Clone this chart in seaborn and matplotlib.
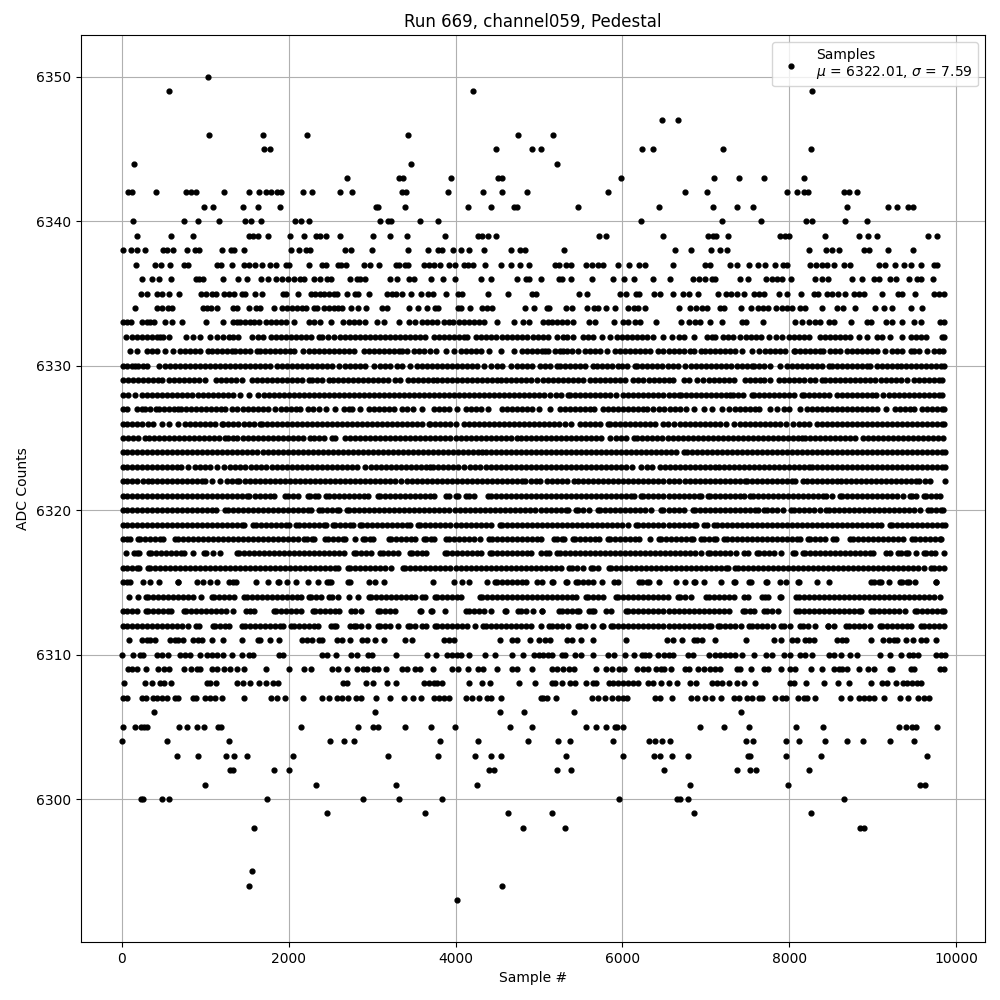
# Pedestal scatter, samples
import matplotlib
matplotlib.use("Agg")
import matplotlib.pyplot as plt
import seaborn as sns
import pandas as pd

adc_6350 = [1030]
adc_6349 = [572, 4208, 8268]
adc_6347 = [6480, 6660]
adc_6346 = [1052, 1688, 2216, 3428, 4748, 5172]
adc_6345 = [1708, 1772, 4484, 4916, 5028, 6240, 6372, 7200, 8256]
adc_6344 = [152, 3464, 5220]
adc_6343 = [2696, 3320, 3368, 3944, 4510, 4560, 5988, 7092, 7392, 7692, 8172]
adc_6342 = [80, 120, 416, 772, 828, 896, 1232, 1520, 1640, 1724, 1784, 1860, 1908, 2168, 2276, 2612, 2764, 3360, 3408, 3912, 4332, 4552, 4856, 5832, 6744, 7008, 7968, 8088, 8180, 8220, 8652, 8720, 8808]
adc_6341 = [992, 1100, 1448, 1628, 1892, 3044, 3072, 3392, 4148, 4424, 4700, 4732, 5472, 6444, 7080, 7368, 7560, 8688, 9180, 9288, 9420, 9480]
adc_6340 = [140, 752, 920, 1172, 1472, 1544, 1664, 2072, 2144, 2240, 3092, 3188, 3228, 3572, 3788, 6228, 7188, 7656, 8204, 8268, 8664, 8928]
adc_6339 = [188, 596, 856, 1520, 1572, 1632, 1748, 2012, 2180, 2328, 2380, 2448, 2612, 3008, 3212, 3416, 3872, 4268, 4320, 4384, 4484, 5724, 5808, 6492, 7020, 7084, 7116, 7260, 7892, 7952, 7996, 8424, 8832, 8940, 9048, 9660, 9768]
adc_6338 = [20, 108, 188, 284, 500, 540, 620, 788, 884, 932, 1208, 1308, 1348, 1460, 2024, 2124, 2208, 2260, 2672, 2744, 2996, 3428, 3668, 3792, 3840, 3972, 4064, 4160, 4340, 4664, 4772, 4832, 5304, 6624, 6816, 7056, 7164, 7248, 8236, 8436, 8512, 8592, 8900, 8956, 9180, 9480]
adc_6337 = [176, 400, 476, 584, 752, 792, 1140, 1196, 1328, 1460, 1520, 1592, 1676, 1772, 1852, 1964, 2004, 2240, 2400, 2448, 2588, 2628, 2684, 2900, 2976, 3080, 3284, 3324, 3400, 3432, 3620, 3680, 3740, 3812, 3920, 3992, 4100, 4152, 4208, 4352, 4544, 4664, 4776, 4880, 5192, 5244, 5324, 5388, 5568, 5640, 5712, 5772, 5952, 6084, 6204, 6276, 6600, 6992, 7052, 7284, 7372, 7512, 7620, 7712, 7824, 7920, 7968, 8244, 8320, 8392, 8452, 8540, 8652, 8724, 9072, 9144, 9264, 9372, 9452, 9572, 9732, 9772]
adc_6336 = [248, 368, 452, 596, 892, 928, 980, 1220, 1400, 1504, 1668, 1748, 1852, 1920, 1988, 2060, 2140, 2188, 2300, 2380, 2460, 2512, 2732, 2820, 2852, 2912, 3220, 3300, 3440, 3500, 3704, 3848, 3992, 4304, 4424, 4736, 4840, 4880, 5024, 5244, 5280, 5388, 5640, 5892, 6024, 6144, 6372, 6564, 6840, 6912, 6992, 7072, 7112, 7404, 7500, 7716, 7792, 7852, 7912, 8016, 8304, 8392, 8460, 8748, 8868, 9012, 9072, 9204, 9276, 9432, 9532, 9572, 9720]
adc_6335 = [228, 300, 420, 480, 572, 688, 948, 1012, 1088, 1132, 1232, 1292, 1352, 1436, 1480, 1592, 1676, 1928, 1964, 2108, 2268, 2320, 2380, 2428, 2480, 2540, 2580, 2696, 2792, 2832, 2960, 3180, 3240, 3292, 3356, 3464, 3584, 3668, 3728, 3884, 4028, 4076, 4388, 4628, 4920, 4960, 5484, 5572, 5972, 6044, 6164, 6200, 6384, 6456, 6608, 6720, 6792, 6900, 7140, 7244, 7304, 7368, 7452, 7572, 7632, 7692, 7872, 7968, 8136, 8292, 8340, 8452, 8512, 8580, 8672, 8772, 8832, 8892, 9108, 9300, 9352, 9504, 9732, 9792, 9848]
adc_6334 = [164, 428, 480, 560, 608, 980, 1028, 1076, 1140, 1340, 1380, 1520, 1612, 1660, 1820, 1920, 1980, 2040, 2100, 2160, 2212, 2300, 2340, 2420, 2480, 2540, 2588, 2636, 2744, 2828, 2924, 3120, 3180, 3440, 3548, 3656, 3752, 3788, 4028, 4060, 4172, 4320, 4380, 4440, 4832, 4944, 5092, 5120, 5324, 5392, 5572, 5660, 5712, 5808, 5916, 6072, 6140, 6192, 6272, 6672, 6812, 6880, 6952, 7012, 7172, 7212, 7416, 7536, 7620, 7680, 7740, 7844, 7912, 7972, 8032, 8124, 8192, 8392, 8572, 8644, 8788, 9024, 9132, 9232, 9456, 9592]
adc_6333 = [14, 60, 108, 240, 300, 340, 392, 520, 600, 728, 1016, 1212, 1340, 1380, 1420, 1480, 1540, 1588, 1640, 1728, 1788, 1848, 1908, 1972, 2060, 2240, 2300, 2380, 2512, 2648, 2720, 2780, 2840, 2920, 3060, 3140, 3328, 3440, 3512, 3600, 3660, 3720, 3780, 3860, 3920, 3972, 4040, 4100, 4160, 4220, 4280, 4340, 4500, 4700, 4812, 4880, 5052, 5112, 5152, 5212, 5272, 5332, 5412, 5604, 5672, 5904, 6004, 6072, 6152, 6212, 6408, 6696, 6792, 6872, 6932, 7052, 7188, 7432, 7484, 7680, 8072, 8152, 8232, 8312, 8372, 8480, 8540, 8736, 8932, 8980, 9152, 9232, 9348, 9492, 9572, 9804, 9852]
adc_6332 = [48, 120, 180, 240, 300, 360, 420, 460, 500, 572, 772, 852, 944, 1064, 1148, 1220, 1292, 1340, 1400, 1560, 1630, 1688, 1788, 1850, 1910, 1970, 2030, 2090, 2150, 2210, 2270, 2360, 2400, 2470, 2540, 2620, 2680, 2740, 2800, 2860, 2920, 2980, 3040, 3100, 3160, 3220, 3280, 3340, 3400, 3460, 3520, 3580, 3640, 3740, 3800, 3860, 3920, 3980, 4040, 4100, 4140, 4240, 4300, 4360, 4420, 4480, 4560, 4620, 4680, 4740, 4800, 4860, 4932, 4992, 5052, 5112, 5212, 5292, 5340, 5412, 5532, 5592, 5652, 5752, 5852, 5932, 5992, 6052, 6112, 6172, 6232, 6292, 6372, 6492, 6592, 6672, 6732, 6852, 7012, 7072, 7112, 7204, 7264, 7324, 7404, 7484, 7544, 7604, 7664, 7752, 7844, 7912, 7992, 8052, 8112, 8172, 8232, 8364, 8424, 8484, 8544, 8604, 8664, 8732, 8832, 8932, 9052, 9112, 9204, 9352, 9452, 9512, 9572, 9632, 9832, 9856]
adc_6331 = [100, 188, 300, 360, 420, 520, 620, 700, 760, 820, 880, 940, 1040, 1080, 1140, 1200, 1260, 1320, 1360, 1420, 1480, 1540, 1620, 1660, 1720, 1780, 1840, 1900, 1960, 2012, 2060, 2168, 2240, 2300, 2360, 2420, 2480, 2540, 2600, 2660, 2720, 2780, 2900, 2960, 3020, 3080, 3140, 3200, 3260, 3320, 3360, 3420, 3500, 3560, 3620, 3700, 3772, 3884, 3980, 4060, 4120, 4180, 4240, 4300, 4400, 4544, 4700, 4800, 4860, 4920, 4980, 5040, 5072, 5112, 5192, 5252, 5292, 5332, 5400, 5472, 5552, 5612, 5672, 5732, 5812, 5912, 5972, 6032, 6092, 6152, 6212, 6272, 6332, 6432, 6492, 6552, 6612, 6672, 6732, 6812, 6852, 6940, 6992, 7052, 7112, 7172, 7232, 7292, 7352, 7432, 7552, 7632, 7712, 7772, 7832, 7892, 7952, 8052, 8072, 8132, 8192, 8252, 8312, 8372, 8404, 8484, 8552, 8612, 8692, 8752, 8812, 8872, 8932, 8992, 9052, 9140, 9232, 9292, 9352, 9452, 9492, 9552, 9652, 9732, 9792, 9836]
adc_6330 = [14, 60, 120, 160, 200, 250, 300, 452, 520, 580, 640, 700, 760, 820, 880, 940, 1000, 1060, 1120, 1180, 1240, 1300, 1360, 1420, 1480, 1540, 1600, 1660, 1720, 1780, 1860, 1920, 1980, 2040, 2100, 2160, 2220, 2280, 2340, 2400, 2460, 2520, 2600, 2680, 2740, 2800, 2860, 2920, 3020, 3100, 3160, 3220, 3300, 3360, 3460, 3540, 3600, 3660, 3720, 3780, 3840, 3900, 3960, 4020, 4080, 4140, 4200, 4260, 4340, 4420, 4500, 4560, 4660, 4740, 4800, 4860, 4920, 5012, 5072, 5132, 5212, 5252, 5312, 5372, 5432, 5492, 5552, 5652, 5692, 5752, 5812, 5872, 5952, 5992, 6052, 6152, 6180, 6240, 6300, 6360, 6420, 6480, 6540, 6600, 6660, 6752, 6820, 6880, 6940, 7000, 7060, 7120, 7180, 7240, 7300, 7372, 7432, 7492, 7552, 7580, 7640, 7700, 7772, 7892, 7972, 8032, 8092, 8152, 8212, 8272, 8332, 8392, 8472, 8512, 8572, 8632, 8692, 8752, 8812, 8872, 8932, 8972, 9052, 9112, 9172, 9232, 9292, 9340, 9400, 9460, 9520, 9580, 9640, 9692, 9752, 9812, 9854]
adc_6329 = [12, 72, 132, 192, 260, 320, 372, 432, 480, 568, 628, 688, 748, 808, 868, 928, 1000, 1128, 1188, 1248, 1308, 1372, 1440, 1560, 1620, 1680, 1740, 1800, 1860, 1920, 1980, 2040, 2100, 2160, 2240, 2280, 2340, 2400, 2480, 2528, 2588, 2648, 2708, 2768, 2828, 2888, 2948, 3008, 3068, 3128, 3188, 3272, 3332, 3428, 3488, 3548, 3608, 3668, 3732, 3780, 3840, 3900, 3960, 4020, 4080, 4140, 4200, 4260, 4320, 4380, 4440, 4500, 4540, 4600, 4660, 4720, 4780, 4840, 4900, 4972, 5044, 5104, 5164, 5224, 5284, 5344, 5404, 5464, 5524, 5612, 5672, 5732, 5792, 5852, 5912, 5972, 6032, 6132, 6192, 6252, 6324, 6380, 6440, 6500, 6560, 6604, 6732, 6792, 6892, 6964, 7032, 7092, 7152, 7212, 7272, 7332, 7472, 7532, 7592, 7652, 7700, 7772, 7872, 7932, 7992, 8052, 8112, 8172, 8244, 8304, 8392, 8432, 8492, 8552, 8612, 8672, 8732, 8792, 8852, 8912, 8972, 9032, 9092, 9152, 9212, 9272, 9332, 9412, 9492, 9552, 9612, 9672, 9732, 9792, 9832]
adc_6328 = [20, 80, 160, 240, 300, 360, 420, 480, 540, 600, 660, 720, 780, 840, 920, 972, 1032, 1092, 1152, 1212, 1272, 1332, 1420, 1520, 1628, 1700, 1760, 1820, 1880, 1940, 2000, 2060, 2120, 2180, 2240, 2300, 2360, 2420, 2480, 2540, 2600, 2660, 2720, 2780, 2840, 2900, 2960, 3020, 3080, 3140, 3200, 3260, 3320, 3380, 3440, 3500, 3560, 3620, 3680, 3740, 3800, 3860, 3920, 3980, 4040, 4100, 4160, 4220, 4280, 4340, 4400, 4460, 4520, 4580, 4640, 4700, 4760, 4820, 4880, 4940, 5000, 5060, 5132, 5204, 5264, 5352, 5372, 5432, 5492, 5552, 5612, 5672, 5732, 5792, 5852, 5924, 6012, 6072, 6132, 6192, 6252, 6312, 6372, 6432, 6492, 6552, 6612, 6672, 6704, 6764, 6824, 6884, 6944, 7004, 7064, 7124, 7184, 7244, 7292, 7324, 7384, 7444, 7552, 7580, 7640, 7700, 7760, 7820, 7880, 7940, 8000, 8060, 8152, 8180, 8240, 8300, 8360, 8420, 8480, 8572, 8632, 8692, 8752, 8812, 8872, 8932, 8992, 9040, 9120, 9192, 9252, 9312, 9372, 9432, 9492, 9552, 9612, 9672, 9732, 9792, 9832]
adc_6327 = [14, 60, 180, 240, 280, 340, 412, 452, 512, 572, 632, 680, 712, 772, 832, 892, 952, 1012, 1072, 1132, 1192, 1240, 1320, 1388, 1448, 1508, 1568, 1628, 1688, 1748, 1840, 1908, 1968, 2028, 2088, 2140, 2228, 2288, 2360, 2448, 2552, 2660, 2720, 2760, 2860, 2960, 3020, 3080, 3140, 3200, 3260, 3360, 3420, 3492, 3600, 3740, 3800, 3860, 3920, 4020, 4120, 4180, 4240, 4300, 4388, 4560, 4620, 4680, 4740, 4800, 4860, 4920, 5004, 5132, 5252, 5312, 5372, 5432, 5492, 5552, 5612, 5664, 5772, 5832, 5892, 5952, 6012, 6072, 6132, 6192, 6252, 6292, 6372, 6444, 6504, 6564, 6624, 6684, 6764, 6852, 6972, 7072, 7188, 7272, 7352, 7404, 7464, 7524, 7584, 7640, 7772, 7852, 7932, 7992, 8124, 8212, 8272, 8332, 8392, 8452, 8512, 8572, 8632, 8692, 8752, 8812, 8872, 8932, 8992, 9052, 9152, 9260, 9320, 9380, 9440, 9492, 9592, 9652, 9712, 9772, 9832, 9856]
adc_6326 = [14, 60, 120, 180, 240, 320, 380, 480, 568, 680, 760, 820, 880, 940, 1000, 1060, 1120, 1200, 1220, 1280, 1340, 1400, 1460, 1520, 1580, 1660, 1680, 1740, 1800, 1860, 1920, 1980, 2040, 2100, 2160, 2220, 2280, 2340, 2400, 2460, 2520, 2580, 2640, 2700, 2760, 2820, 2880, 2940, 3000, 3060, 3120, 3180, 3240, 3300, 3360, 3420, 3480, 3540, 3600, 3680, 3700, 3760, 3820, 3880, 3940, 4000, 4100, 4160, 4220, 4280, 4340, 4400, 4460, 4520, 4580, 4640, 4700, 4760, 4820, 4880, 4940, 5000, 5060, 5120, 5180, 5240, 5312, 5380, 5492, 5552, 5612, 5672, 5732, 5832, 5852, 5912, 5972, 6032, 6092, 6152, 6212, 6272, 6332, 6392, 6492, 6540, 6612, 6684, 6744, 6804, 6864, 6924, 6984, 7044, 7104, 7164, 7244, 7332, 7404, 7464, 7524, 7584, 7644, 7704, 7764, 7824, 7884, 7964, 8040, 8112, 8172, 8232, 8332, 8392, 8452, 8512, 8572, 8632, 8692, 8752, 8812, 8872, 8932, 8992, 9052, 9112, 9172, 9232, 9292, 9352, 9412, 9472, 9532, 9592, 9652, 9712, 9772, 9832, 9856]
adc_6325 = [12, 72, 132, 192, 280, 328, 388, 448, 508, 568, 628, 688, 748, 808, 868, 928, 988, 1048, 1108, 1168, 1240, 1280, 1340, 1388, 1448, 1508, 1568, 1628, 1688, 1748, 1808, 1868, 1928, 1988, 2048, 2108, 2168, 2260, 2300, 2360, 2420, 2520, 2552, 2680, 2740, 2800, 2860, 2920, 2980, 3040, 3100, 3160, 3220, 3280, 3340, 3400, 3460, 3520, 3580, 3640, 3700, 3760, 3820, 3880, 3940, 4000, 4060, 4120, 4180, 4240, 4300, 4360, 4420, 4480, 4540, 4600, 4660, 4732, 4780, 4840, 4900, 4960, 5020, 5080, 5140, 5200, 5260, 5320, 5380, 5440, 5500, 5560, 5620, 5680, 5740, 5852, 5924, 5984, 6044, 6140, 6180, 6240, 6300, 6360, 6420, 6480, 6540, 6600, 6660, 6720, 6780, 6840, 6900, 6960, 7020, 7080, 7140, 7200, 7260, 7320, 7380, 7440, 7500, 7560, 7620, 7680, 7740, 7800, 7860, 7920, 7980, 8040, 8100, 8152, 8192, 8252, 8312, 8372, 8432, 8492, 8552, 8604, 8664, 8724, 8784, 8884, 8940, 9000, 9060, 9120, 9180, 9240, 9300, 9360, 9420, 9480, 9540, 9600, 9660, 9720, 9780, 9842]
adc_6324 = [14, 60, 120, 180, 240, 300, 360, 420, 480, 540, 600, 660, 720, 780, 840, 900, 960, 1020, 1080, 1140, 1200, 1260, 1320, 1380, 1440, 1500, 1560, 1620, 1692, 1752, 1812, 1872, 1932, 1992, 2052, 2112, 2172, 2232, 2292, 2352, 2412, 2472, 2532, 2592, 2652, 2712, 2772, 2832, 2892, 2952, 3012, 3072, 3132, 3192, 3252, 3312, 3372, 3432, 3492, 3552, 3612, 3672, 3732, 3792, 3852, 3912, 3972, 4032, 4092, 4152, 4212, 4272, 4320, 4360, 4420, 4480, 4540, 4600, 4660, 4720, 4780, 4840, 4900, 4960, 5020, 5080, 5140, 5200, 5260, 5320, 5380, 5440, 5500, 5560, 5620, 5680, 5740, 5800, 5860, 5920, 5980, 6040, 6100, 6160, 6220, 6280, 6340, 6400, 6460, 6520, 6580, 6640, 6732, 6772, 6832, 6892, 6952, 7012, 7072, 7132, 7192, 7252, 7312, 7372, 7432, 7492, 7552, 7612, 7672, 7732, 7792, 7852, 7912, 7972, 8032, 8092, 8152, 8212, 8272, 8332, 8392, 8452, 8512, 8572, 8632, 8692, 8752, 8812, 8872, 8932, 8992, 9052, 9112, 9172, 9232, 9292, 9352, 9412, 9472, 9532, 9592, 9652, 9712, 9772, 9832, 9860]
adc_6323 = [14, 60, 120, 180, 240, 300, 360, 420, 480, 540, 600, 660, 710, 800, 880, 940, 1000, 1060, 1140, 1228, 1300, 1360, 1420, 1480, 1550, 1612, 1672, 1732, 1800, 1860, 1920, 1980, 2040, 2100, 2160, 2220, 2280, 2340, 2400, 2460, 2520, 2580, 2640, 2700, 2760, 2820, 2910, 2988, 3048, 3108, 3168, 3228, 3288, 3348, 3408, 3468, 3528, 3588, 3648, 3700, 3728, 3788, 3848, 3908, 3968, 4028, 4100, 4172, 4232, 4292, 4360, 4420, 4480, 4540, 4600, 4660, 4720, 4780, 4840, 4900, 4960, 5020, 5080, 5140, 5200, 5260, 5320, 5380, 5440, 5500, 5560, 5620, 5680, 5740, 5800, 5860, 5920, 5980, 6040, 6120, 6220, 6292, 6360, 6452, 6512, 6572, 6632, 6692, 6752, 6812, 6872, 6932, 6992, 7052, 7112, 7152, 7212, 7272, 7332, 7392, 7452, 7512, 7572, 7632, 7692, 7752, 7812, 7872, 7932, 7992, 8052, 8112, 8172, 8232, 8272, 8332, 8392, 8452, 8512, 8572, 8632, 8692, 8752, 8812, 8872, 8932, 8992, 9052, 9112, 9172, 9232, 9292, 9352, 9412, 9472, 9532, 9592, 9652, 9712, 9772, 9832, 9862]
adc_6322 = [14, 60, 120, 180, 250, 320, 368, 428, 488, 548, 608, 668, 728, 788, 848, 908, 968, 1000, 1080, 1180, 1260, 1320, 1380, 1410, 1480, 1540, 1600, 1660, 1720, 1780, 1840, 1900, 1960, 2020, 2080, 2140, 2200, 2260, 2320, 2380, 2440, 2500, 2560, 2620, 2680, 2740, 2800, 2860, 2920, 2980, 3040, 3100, 3160, 3220, 3280, 3350, 3420, 3480, 3540, 3600, 3660, 3720, 3780, 3840, 3900, 3960, 4020, 4080, 4140, 4200, 4260, 4320, 4380, 4440, 4500, 4560, 4620, 4680, 4740, 4800, 4830, 4900, 4960, 5014, 5100, 5160, 5220, 5280, 5334, 5420, 5462, 5532, 5592, 5652, 5712, 5772, 5832, 5892, 5952, 6012, 6072, 6132, 6192, 6252, 6312, 6372, 6422, 6492, 6562, 6620, 6682, 6752, 6812, 6872, 6932, 6992, 7052, 7112, 7172, 7232, 7292, 7352, 7412, 7472, 7492, 7552, 7612, 7672, 7732, 7792, 7852, 7912, 7972, 8032, 8062, 8164, 8214, 8272, 8332, 8392, 8452, 8512, 8572, 8614, 8680, 8740, 8800, 8860, 8920, 8980, 9040, 9100, 9160, 9220, 9280, 9340, 9400, 9460, 9520, 9550, 9620, 9682, 9860]
adc_6321 = [14, 60, 120, 180, 240, 300, 360, 420, 480, 540, 600, 660, 720, 780, 840, 900, 960, 1020, 1080, 1140, 1200, 1260, 1320, 1380, 1440, 1500, 1530, 1592, 1652, 1712, 1772, 1822, 1962, 1992, 2052, 2110, 2230, 2260, 2320, 2350, 2450, 2480, 2540, 2600, 2660, 2720, 2780, 2840, 2900, 2950, 3070, 3100, 3160, 3220, 3280, 3340, 3400, 3460, 3520, 3580, 3640, 3700, 3742, 3890, 3920, 4000, 4030, 4130, 4160, 4222, 4390, 4420, 4480, 4540, 4600, 4660, 4720, 4780, 4840, 4900, 4960, 5020, 5080, 5140, 5200, 5260, 5320, 5380, 5440, 5500, 5560, 5620, 5680, 5740, 5800, 5860, 5920, 5980, 6040, 6100, 6134, 6222, 6252, 6312, 6372, 6432, 6492, 6552, 6612, 6672, 6732, 6792, 6852, 6912, 6942, 7022, 7052, 7112, 7172, 7232, 7292, 7352, 7412, 7454, 7530, 7560, 7620, 7680, 7740, 7800, 7860, 7920, 7980, 8040, 8100, 8160, 8220, 8280, 8340, 8400, 8442, 8512, 8602, 8632, 8692, 8752, 8812, 8872, 8932, 8992, 9052, 9112, 9172, 9232, 9292, 9362, 9442, 9472, 9522, 9610, 9640, 9700, 9760, 9802]
adc_6320 = [14, 60, 120, 180, 240, 300, 360, 420, 480, 540, 600, 660, 720, 780, 840, 900, 960, 1020, 1080, 1130, 1242, 1272, 1332, 1392, 1452, 1512, 1572, 1632, 1692, 1752, 1812, 1872, 1932, 1992, 2052, 2112, 2172, 2232, 2270, 2370, 2400, 2460, 2520, 2580, 2610, 2698, 2728, 2788, 2848, 2908, 2968, 3028, 3088, 3148, 3208, 3268, 3328, 3388, 3448, 3508, 3568, 3628, 3688, 3748, 3808, 3868, 3928, 3988, 4048, 4108, 4168, 4228, 4288, 4348, 4408, 4468, 4528, 4588, 4648, 4708, 4768, 4828, 4888, 4948, 5020, 5080, 5140, 5200, 5260, 5320, 5342, 5442, 5472, 5532, 5602, 5702, 5732, 5792, 5852, 5912, 5972, 6032, 6092, 6152, 6212, 6272, 6342, 6462, 6492, 6552, 6612, 6672, 6742, 6842, 6872, 6932, 6992, 7052, 7112, 7172, 7232, 7292, 7352, 7412, 7472, 7532, 7592, 7622, 7702, 7732, 7792, 7852, 7922, 8022, 8052, 8112, 8172, 8232, 8292, 8362, 8442, 8472, 8532, 8592, 8652, 8712, 8772, 8832, 8892, 8952, 9012, 9072, 9132, 9192, 9252, 9312, 9372, 9432, 9492, 9562, 9662, 9692, 9752, 9812, 9842]
adc_6319 = [14, 60, 120, 180, 240, 300, 360, 420, 480, 540, 600, 660, 720, 780, 840, 900, 960, 1020, 1080, 1140, 1200, 1260, 1320, 1380, 1440, 1470, 1578, 1608, 1668, 1728, 1788, 1848, 1908, 1968, 2010, 2090, 2120, 2180, 2240, 2300, 2360, 2420, 2450, 2530, 2560, 2620, 2680, 2740, 2770, 2850, 2880, 2940, 3000, 3060, 3120, 3180, 3240, 3300, 3360, 3420, 3450, 3550, 3580, 3640, 3700, 3760, 3820, 3880, 3940, 4000, 4060, 4120, 4180, 4240, 4300, 4360, 4430, 4530, 4560, 4620, 4680, 4740, 4800, 4860, 4920, 4980, 5040, 5100, 5160, 5220, 5280, 5340, 5400, 5460, 5520, 5580, 5640, 5700, 5760, 5820, 5880, 5940, 6000, 6062, 6162, 6192, 6252, 6312, 6372, 6432, 6492, 6552, 6612, 6672, 6732, 6792, 6852, 6882, 6982, 7012, 7102, 7132, 7192, 7252, 7312, 7372, 7432, 7492, 7552, 7612, 7672, 7732, 7792, 7852, 7912, 7972, 8032, 8092, 8152, 8212, 8272, 8332, 8392, 8452, 8512, 8572, 8632, 8692, 8752, 8812, 8872, 8932, 8992, 9052, 9102, 9202, 9232, 9292, 9352, 9412, 9472, 9532, 9592, 9652, 9712, 9772, 9832, 9862]
adc_6318 = [14, 60, 102, 190, 220, 280, 340, 400, 460, 490, 642, 672, 732, 792, 852, 912, 972, 1032, 1092, 1152, 1212, 1272, 1332, 1392, 1452, 1512, 1572, 1632, 1692, 1752, 1812, 1872, 1932, 1992, 2052, 2110, 2190, 2220, 2280, 2310, 2442, 2472, 2532, 2592, 2652, 2682, 2790, 2890, 2920, 2980, 3010, 3202, 3232, 3292, 3352, 3412, 3472, 3510, 3618, 3648, 3708, 3738, 3890, 3920, 3980, 4040, 4100, 4160, 4220, 4290, 4402, 4432, 4492, 4552, 4612, 4672, 4732, 4792, 4852, 4912, 4972, 5022, 5182, 5212, 5272, 5302, 5402, 5432, 5492, 5552, 5612, 5672, 5722, 5822, 5852, 5912, 5972, 6032, 6092, 6152, 6202, 6332, 6434, 6464, 6524, 6584, 6644, 6704, 6764, 6824, 6850, 6942, 6972, 7032, 7092, 7122, 7222, 7252, 7312, 7372, 7432, 7492, 7552, 7612, 7672, 7732, 7792, 7852, 7912, 7972, 8032, 8092, 8122, 8222, 8252, 8312, 8372, 8422, 8522, 8562, 8730, 8760, 8820, 8880, 8940, 9000, 9060, 9120, 9180, 9240, 9300, 9362, 9474, 9504, 9564, 9624, 9684, 9744, 9804, 9822]
adc_6317 = [50, 150, 180, 210, 322, 352, 412, 472, 532, 592, 652, 712, 750, 850, 990, 1010, 1100, 1180, 1378, 1408, 1468, 1528, 1588, 1648, 1708, 1768, 1828, 1888, 1948, 2008, 2068, 2128, 2188, 2248, 2308, 2368, 2428, 2488, 2548, 2608, 2670, 2778, 2808, 2868, 2928, 2990, 3098, 3128, 3188, 3248, 3310, 3450, 3480, 3540, 3600, 3650, 3870, 3900, 3960, 4020, 4080, 4140, 4200, 4260, 4310, 4410, 4440, 4500, 4560, 4620, 4680, 4740, 4800, 4860, 4910, 5020, 5080, 5122, 5222, 5252, 5312, 5372, 5432, 5492, 5552, 5612, 5672, 5732, 5792, 5852, 5912, 5972, 6032, 6092, 6152, 6212, 6272, 6332, 6392, 6452, 6512, 6572, 6632, 6692, 6752, 6812, 6872, 6942, 7022, 7052, 7112, 7172, 7232, 7292, 7362, 7462, 7502, 7610, 7640, 7700, 7760, 7820, 7902, 8042, 8062, 8162, 8192, 8252, 8312, 8372, 8432, 8492, 8552, 8612, 8672, 8732, 8792, 8852, 8912, 8972, 9002, 9154, 9202, 9302, 9332, 9392, 9422, 9522, 9610, 9640, 9700, 9742, 9852]
adc_6316 = [14, 60, 120, 180, 210, 310, 340, 400, 460, 520, 580, 640, 700, 760, 820, 880, 940, 1000, 1060, 1120, 1180, 1240, 1300, 1360, 1420, 1480, 1540, 1600, 1660, 1720, 1780, 1840, 1900, 1960, 2020, 2080, 2140, 2200, 2260, 2320, 2380, 2440, 2500, 2560, 2590, 2710, 2740, 2800, 2860, 2920, 2980, 3040, 3100, 3160, 3230, 3370, 3400, 3460, 3520, 3580, 3640, 3700, 3760, 3820, 3880, 3940, 4000, 4060, 4120, 4180, 4240, 4300, 4360, 4420, 4480, 4540, 4600, 4660, 4720, 4780, 4840, 4900, 4960, 5020, 5080, 5140, 5200, 5262, 5362, 5392, 5452, 5522, 5622, 5652, 5710, 5834, 5864, 5924, 5984, 6044, 6104, 6164, 6224, 6284, 6344, 6404, 6464, 6524, 6584, 6644, 6704, 6764, 6824, 6884, 6944, 7004, 7064, 7124, 7184, 7244, 7262, 7354, 7384, 7444, 7504, 7564, 7624, 7684, 7744, 7804, 7864, 7924, 7984, 8044, 8104, 8164, 8224, 8284, 8344, 8404, 8464, 8524, 8584, 8644, 8704, 8764, 8824, 8884, 8944, 9004, 9064, 9124, 9184, 9244, 9304, 9364, 9424, 9484, 9544, 9614, 9702, 9732, 9792, 9854]
adc_6315 = [14, 60, 102, 252, 340, 452, 670, 680, 900, 980, 1060, 1140, 1290, 1330, 1370, 1604, 1748, 1870, 1880, 1980, 2084, 2228, 2348, 2458, 2480, 2510, 2710, 2730, 2960, 3040, 3140, 3732, 3980, 4080, 4160, 4372, 4470, 4500, 4560, 4620, 4680, 4740, 4800, 4850, 4972, 5032, 5162, 5172, 5322, 5332, 5442, 5472, 5532, 5592, 5642, 5752, 5902, 5950, 6202, 6232, 6292, 6322, 6444, 6640, 6744, 6862, 6872, 6972, 7176, 7342, 7352, 7522, 7542, 7722, 7732, 7892, 7964, 8102, 8112, 8332, 8472, 8982, 9012, 9072, 9102, 9192, 9322, 9352, 9412, 9432, 9504, 9754, 9762]
adc_6314 = [90, 190, 290, 320, 380, 440, 500, 560, 620, 680, 740, 800, 860, 950, 1082, 1112, 1172, 1232, 1292, 1342, 1470, 1500, 1560, 1620, 1680, 1740, 1800, 1860, 1920, 1980, 2040, 2100, 2150, 2242, 2272, 2332, 2390, 2490, 2520, 2598, 2720, 2828, 2958, 2988, 3048, 3108, 3168, 3228, 3288, 3348, 3408, 3468, 3510, 3602, 3630, 3750, 3780, 3840, 3900, 3960, 4020, 4070, 4290, 4320, 4380, 4440, 4500, 4560, 4620, 4680, 4740, 4800, 4860, 4920, 4980, 5040, 5100, 5160, 5220, 5280, 5340, 5400, 5442, 5562, 5592, 5652, 5712, 5762, 5922, 5952, 6012, 6072, 6132, 6192, 6252, 6312, 6372, 6432, 6492, 6542, 6662, 6692, 6752, 6822, 7002, 7032, 7092, 7152, 7212, 7272, 7342, 7462, 7502, 7674, 7704, 7742, 7882, 7902, 8082, 8112, 8172, 8232, 8292, 8352, 8412, 8472, 8532, 8592, 8652, 8712, 8772, 8832, 8892, 8952, 9012, 9072, 9132, 9192, 9252, 9312, 9372, 9432, 9492, 9552, 9612, 9672, 9732, 9802]
adc_6313 = [14, 60, 120, 182, 290, 320, 380, 440, 500, 560, 590, 742, 772, 832, 892, 952, 1012, 1072, 1132, 1192, 1252, 1330, 1490, 1540, 1590, 1822, 1852, 1912, 1972, 2032, 2092, 2150, 2290, 2320, 2380, 2440, 2500, 2560, 2610, 2750, 2800, 2870, 3070, 3100, 3160, 3220, 3270, 3570, 3590, 3710, 3722, 3872, 4130, 4160, 4220, 4280, 4340, 4430, 4590, 4610, 4750, 4780, 4840, 4930, 5042, 5042, 5242, 5272, 5332, 5392, 5452, 5482, 5602, 5632, 5662, 5802, 5862, 6042, 6072, 6132, 6192, 6252, 6312, 6372, 6432, 6492, 6552, 6612, 6672, 6732, 6792, 6852, 6912, 6972, 7032, 7092, 7152, 7212, 7282, 7442, 7472, 7532, 7582, 7702, 7732, 7792, 7862, 8082, 8112, 8172, 8232, 8292, 8352, 8412, 8472, 8532, 8592, 8652, 8712, 8772, 8832, 8862, 8982, 9012, 9072, 9132, 9192, 9252, 9312, 9382, 9502, 9532, 9592, 9652, 9712, 9772, 9832, 9854]
adc_6312 = [14, 60, 120, 180, 240, 300, 360, 420, 480, 540, 600, 660, 720, 790, 890, 930, 1090, 1120, 1180, 1240, 1290, 1442, 1472, 1532, 1592, 1652, 1712, 1772, 1832, 1892, 1934, 2030, 2060, 2120, 2180, 2240, 2300, 2350, 2510, 2540, 2570, 2730, 2778, 2808, 2868, 2950, 3070, 3100, 3160, 3220, 3310, 3430, 3460, 3520, 3600, 3650, 3750, 3780, 3840, 3900, 3960, 4020, 4080, 4140, 4230, 4330, 4360, 4420, 4480, 4540, 4600, 4660, 4720, 4780, 4840, 4900, 5022, 5122, 5152, 5212, 5272, 5342, 5466, 5496, 5556, 5642, 5754, 5762, 5862, 5892, 5952, 6012, 6072, 6132, 6192, 6252, 6312, 6372, 6432, 6492, 6552, 6612, 6672, 6732, 6792, 6852, 6912, 6972, 7032, 7062, 7142, 7172, 7232, 7292, 7352, 7422, 7522, 7552, 7612, 7672, 7732, 7802, 7902, 7932, 8002, 8130, 8160, 8220, 8302, 8462, 8462, 8540, 8682, 8712, 8772, 8832, 8892, 8962, 9082, 9112, 9172, 9232, 9292, 9352, 9412, 9454, 9582, 9612, 9672, 9732, 9792, 9854]
adc_6311 = [92, 240, 300, 340, 400, 580, 640, 680, 740, 860, 920, 960, 1080, 1220, 1436, 1628, 1660, 1780, 1880, 2160, 2220, 2280, 2360, 2400, 2580, 2640, 2740, 2880, 2940, 3040, 3140, 3400, 3480, 3860, 3920, 3980, 4532, 4680, 4740, 4892, 5000, 5072, 5132, 5340, 5400, 5508, 5652, 6048, 6532, 6600, 6712, 6852, 6892, 6952, 7104, 7476, 7812, 7896, 8032, 8092, 8184, 8232, 8292, 8572, 8632, 8684, 8976, 9120, 9192, 9252, 9292, 9396, 9480, 9580, 9640, 9756]
adc_6310 = [8, 140, 220, 260, 420, 480, 560, 700, 760, 820, 944, 1028, 1088, 1140, 1220, 1328, 1440, 1520, 1572, 1880, 1928, 2400, 2460, 2564, 2744, 2820, 2952, 3000, 3284, 3656, 3764, 3900, 3960, 4020, 4068, 4160, 4352, 4472, 4676, 4808, 4940, 5000, 5052, 5112, 5152, 5272, 5312, 5432, 5508, 5652, 5832, 5904, 6036, 6144, 6232, 6272, 6324, 6432, 6504, 6552, 6604, 6780, 6840, 7032, 7112, 7172, 7232, 7292, 7352, 7432, 7572, 7716, 7788, 7932, 8004, 8132, 8192, 8272, 8472, 8540, 8616, 8732, 8812, 9084, 9204, 9340, 9432, 9484, 9540, 9756, 9812, 9864]
adc_6309 = [80, 128, 180, 296, 440, 508, 564, 752, 836, 900, 940, 1088, 1148, 1232, 1304, 1388, 1460, 1724, 2000, 2180, 2264, 2520, 2588, 2700, 2816, 2892, 2940, 3020, 3068, 3164, 3360, 3420, 3520, 3572, 3728, 3956, 4028, 4144, 4268, 4332, 4492, 4676, 4740, 4912, 5152, 5212, 5284, 5364, 5424, 5688, 5808, 5880, 5964, 6024, 6180, 6252, 6312, 6400, 6460, 6504, 6576, 6744, 6792, 6904, 6972, 7052, 7112, 7164, 7372, 7412, 7536, 7700, 7740, 7896, 8004, 8072, 8256, 8388, 8532, 8592, 8632, 8688, 8832, 8940, 9012, 9204, 9232, 9460, 9492, 9804, 9852]
adc_6308 = [28, 284, 368, 460, 508, 596, 1020, 1060, 1136, 1388, 1452, 1532, 1640, 1728, 1808, 1872, 2652, 2700, 2924, 3008, 3176, 3284, 3620, 3680, 3740, 3780, 3836, 4160, 4316, 4412, 4760, 4952, 5152, 5192, 5280, 5372, 5432, 5568, 5652, 5684, 5840, 5892, 5952, 6012, 6072, 6132, 6192, 6312, 6372, 6468, 6552, 6656, 6812, 6880, 7072, 7132, 7192, 7272, 7368, 7452, 7584, 8004, 8052, 8196, 8412, 8588, 8712, 8976, 9108, 9172, 9276, 9360, 9412, 9472, 9532, 9580]
adc_6307 = [20, 68, 248, 288, 380, 428, 480, 540, 640, 680, 860, 892, 1000, 1060, 1120, 1200, 1460, 1792, 1860, 1952, 2168, 2396, 2480, 2580, 2640, 2708, 2808, 2868, 3052, 3220, 3380, 3488, 3584, 3740, 3800, 3860, 3920, 4124, 4196, 4280, 4380, 4428, 4540, 5020, 5052, 5092, 5208, 5640, 5712, 5792, 5872, 5952, 6012, 6052, 6396, 6456, 6588, 6820, 6892, 6992, 7072, 7180, 7340, 7400, 7492, 7552, 7632, 7672, 7824, 7912, 7960, 8100, 8172, 8212, 8304, 8616, 8724, 8832, 8892, 8952, 9012, 9132, 9324, 9420, 9540, 9612, 9672]
adc_6306 = [392, 3032, 4532, 4820, 5424, 7416]
adc_6305 = [20, 164, 228, 268, 308, 692, 788, 908, 992, 1160, 1192, 2144, 2828, 3008, 3072, 3392, 3704, 3992, 4652, 4916, 5568, 5688, 5808, 5916, 5940, 6012, 6924, 7212, 7512, 8076, 8400, 9312, 9396, 9468, 9520, 9768]
adc_6304 = [8, 548, 1292, 2492, 2660, 2780, 3812, 4268, 4868, 5232, 5376, 5892, 6324, 6396, 6480, 6564, 7476, 7560, 7956, 8112, 8424, 8688, 8880, 9204, 9492]
adc_6303 = [668, 920, 1256, 1352, 1496, 2048, 3188, 3788, 4232, 4424, 4544, 5328, 6012, 6384, 6456, 6588, 6780, 7500, 7524, 7956, 8376, 9648]
adc_6302 = [1300, 1332, 1820, 2000, 4400, 4460, 5220, 5388, 6504, 7368, 7524, 7596, 8232]
adc_6301 = [1004, 2324, 3284, 4256, 6804, 7980, 9560, 9628]
adc_6300 = [236, 260, 488, 572, 1736, 2888, 3320, 3836, 5964, 6652, 6692, 6780, 8652]
adc_6299 = [2456, 3632, 4628, 5160, 6852, 8256]
adc_6298 = [1580, 4808, 5316, 8844, 8892]
adc_6295 = [1556]
adc_6294 = [1520, 4556]
adc_6293 = [4016]

levels = [6350, 6349, 6347, 6346, 6345, 6344, 6343, 6342, 6341, 6340, 6339, 6338, 6337, 6336, 6335, 6334,
          6333, 6332, 6331, 6330, 6329, 6328, 6327, 6326, 6325, 6324, 6323, 6322, 6321, 6320, 6319, 6318,
          6317, 6316, 6315, 6314, 6313, 6312, 6311, 6310, 6309, 6308, 6307, 6306, 6305, 6304, 6303, 6302,
          6301, 6300, 6299, 6298, 6295, 6294, 6293]
rows = [adc_6350, adc_6349, adc_6347, adc_6346, adc_6345, adc_6344, adc_6343, adc_6342, adc_6341, adc_6340,
        adc_6339, adc_6338, adc_6337, adc_6336, adc_6335, adc_6334, adc_6333, adc_6332, adc_6331, adc_6330,
        adc_6329, adc_6328, adc_6327, adc_6326, adc_6325, adc_6324, adc_6323, adc_6322, adc_6321, adc_6320,
        adc_6319, adc_6318, adc_6317, adc_6316, adc_6315, adc_6314, adc_6313, adc_6312, adc_6311, adc_6310,
        adc_6309, adc_6308, adc_6307, adc_6306, adc_6305, adc_6304, adc_6303, adc_6302, adc_6301, adc_6300,
        adc_6299, adc_6298, adc_6295, adc_6294, adc_6293]

# long table for seaborn
xs = []
ys = []
for level, row in zip(levels, rows):
    xs.extend(row)
    ys.extend([level] * len(row))
df = pd.DataFrame({"sample": xs, "adc": ys})

fig, ax = plt.subplots(figsize=(10, 10))
sns.scatterplot(data=df, x="sample", y="adc", color="k", marker=".", s=48, linewidth=1, edgecolor="k",
                label="Samples\n$\\mu$ = 6322.01, $\\sigma$ = 7.59", ax=ax)
ax.set_xlim(-487, 10344)
ax.set_ylim(6290.1, 6352.9)
ax.set_axisbelow(True)
ax.grid(True)
ax.set_title("Run 669, channel059, Pedestal")
ax.set_xlabel("Sample #")
ax.set_ylabel("ADC Counts")
ax.legend(loc="upper right")
fig.subplots_adjust(left=0.081, right=0.985, top=0.965, bottom=0.058)
fig.savefig("out.png", dpi=100)
